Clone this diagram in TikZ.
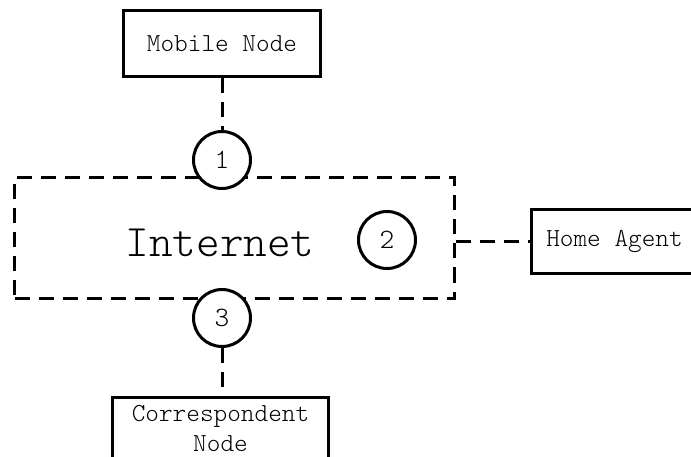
\documentclass[tikz,border=0pt]{standalone}
\usepackage{fontspec}
\setmonofont{Latin Modern Mono Light}

\begin{document}
\begin{tikzpicture}[x=1pt,y=-1pt,
  box/.style={draw,line width=3pt,inner sep=0pt,font=\ttfamily\fontsize{26}{30}\selectfont},
  hop/.style={draw,circle,fill=white,line width=3pt,minimum size=57pt,inner sep=0pt,font=\ttfamily\fontsize{28}{30}\selectfont},
  link/.style={line width=3pt,dash pattern=on 15pt off 9pt}]

\useasboundingbox (0,0) rectangle (691,457);

% Internet cloud
\node[box,dashed,dash pattern=on 15pt off 9pt,minimum width=440pt,minimum height=121pt] (inet) at (234.5,238) {};
\node[font=\ttfamily\fontsize{45}{48}\selectfont] (inetlabel) at (220,243) {Internet};

% End points
\node[box,minimum width=197pt,minimum height=66pt] (mn) at (222,44) {Mobile Node};
\node[box,minimum width=170pt,minimum height=64pt,anchor=west] (ha) at (529.5,241.5) {\hspace{-3pt}Home Agent};
\node[box,minimum width=216pt,anchor=north,align=center,inner ysep=8.5pt] (cn) at (220.5,395.5) {Correspondent\\Node};

% Numbered steps
\node[hop] (c1) at (222,160) {1};
\node[hop] (c2) at (387,240) {2};
\node[hop] (c3) at (222,318) {3};

% Links
\draw[link] (mn.south -| c1.north) -- (c1.north);
\draw[link] (ha.west -| inet.east) -- (ha.west);
\draw[link] (c3.south) -- (c3.south |- cn.north);

\end{tikzpicture}
\end{document}
